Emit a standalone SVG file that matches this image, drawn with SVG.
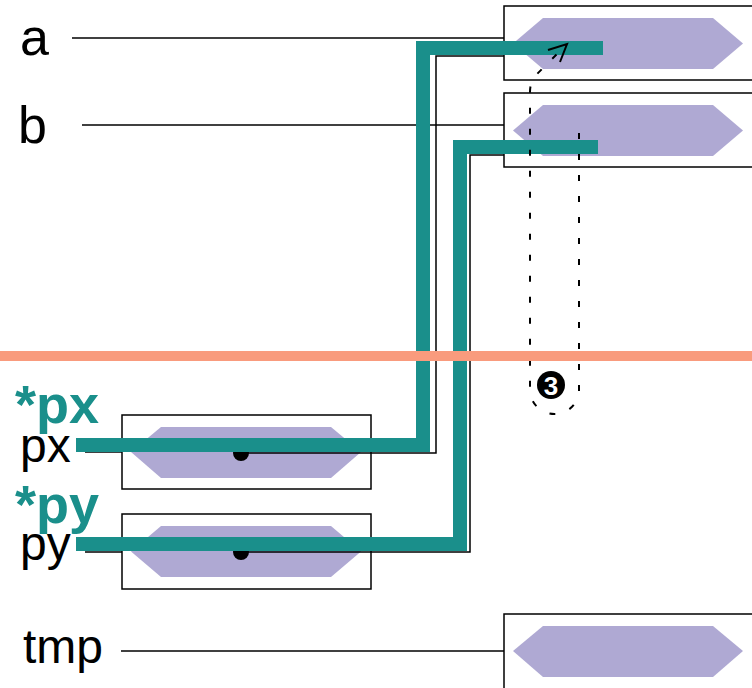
<svg xmlns="http://www.w3.org/2000/svg" width="752" height="688" viewBox="0 0 752 688">
<style>
.box{fill:#fff;stroke:#000;stroke-width:1.5}
.hex{fill:#afa9d3}
.thin{fill:none;stroke:#000;stroke-width:1.5}
.teal{fill:none;stroke:#1a8f8b;stroke-width:14;stroke-linejoin:miter}
.dash{fill:none;stroke:#000;stroke-width:2;stroke-dasharray:6 15}
.lbl{font-family:"Liberation Sans",Arial,sans-serif;fill:#000}
.ptr{font-family:"Liberation Sans",Arial,sans-serif;font-weight:bold;fill:#1a8f8b}
</style>
<rect width="752" height="688" fill="#fff"/>
<g id="node-a">
<rect class="box" x="504" y="6" width="260" height="74"/>
<polygon class="hex" points="513,43.5 543,18 713,18 743,43.5 713,69 543,69"/>
<line class="thin" x1="72" y1="38" x2="504" y2="38"/>
<text class="lbl" x="20" y="55" font-size="52">a</text>
</g>
<g id="node-b">
<rect class="box" x="504" y="93" width="260" height="74"/>
<polygon class="hex" points="513,130.5 543,105 713,105 743,130.5 713,156 543,156"/>
<line class="thin" x1="82" y1="125" x2="504" y2="125"/>
<text class="lbl" x="18" y="143" font-size="52">b</text>
</g>
<g id="node-tmp">
<rect class="box" x="504" y="614" width="260" height="90"/>
<polygon class="hex" points="513,651 543,626 713,626 743,651 713,677 543,677"/>
<line class="thin" x1="121" y1="651" x2="504" y2="651"/>
<text class="lbl" x="23" y="663" font-size="48">tmp</text>
</g>
<g id="node-px">
<rect class="box" x="122" y="415" width="249" height="74"/>
<polygon class="hex" points="131,452 161,427 331,427 361,452 331,478 161,478"/>
<line class="thin" x1="85" y1="452" x2="122" y2="452"/>
<circle cx="241" cy="453" r="8" fill="#000"/>
<text class="lbl" x="20" y="462" font-size="48">px</text>
<text class="ptr" x="15" y="423" font-size="54">*px</text>
</g>
<g id="node-py">
<rect class="box" x="122" y="514" width="249" height="75"/>
<polygon class="hex" points="131,551.5 161,526 331,526 361,551.5 331,577 161,577"/>
<line class="thin" x1="85" y1="552" x2="122" y2="552"/>
<circle cx="241" cy="552" r="8" fill="#000"/>
<text class="lbl" x="20" y="560" font-size="48">py</text>
<text class="ptr" x="15" y="523" font-size="54">*py</text>
</g>
<g id="connectors">
<path class="thin" d="M241,453 H436 V56 H504"/>
<path class="thin" d="M241,552 H470 V155 H504"/>
<path class="teal" d="M76,445 H423 V48 H603"/>
<path class="teal" d="M76,544 H460 V147 H598"/>
<path class="dash" d="M579,133 V390 A24.5,24 0 0 1 530,390 V92 Q530,81 537,74 L567,44"/>
<polyline fill="none" stroke="#000" stroke-width="2" points="548,50 567,44 560,62"/>
</g>
<g id="separator">
<line x1="0" y1="356" x2="752" y2="356" stroke="#f99b7d" stroke-width="10"/>
</g>
<g id="marker-3">
<circle cx="551" cy="385" r="14" fill="#000"/>
<text x="551" y="394.5" font-family="Liberation Sans,Arial,sans-serif" font-weight="bold" font-size="26" fill="#fff" text-anchor="middle">3</text>
</g>
</svg>
